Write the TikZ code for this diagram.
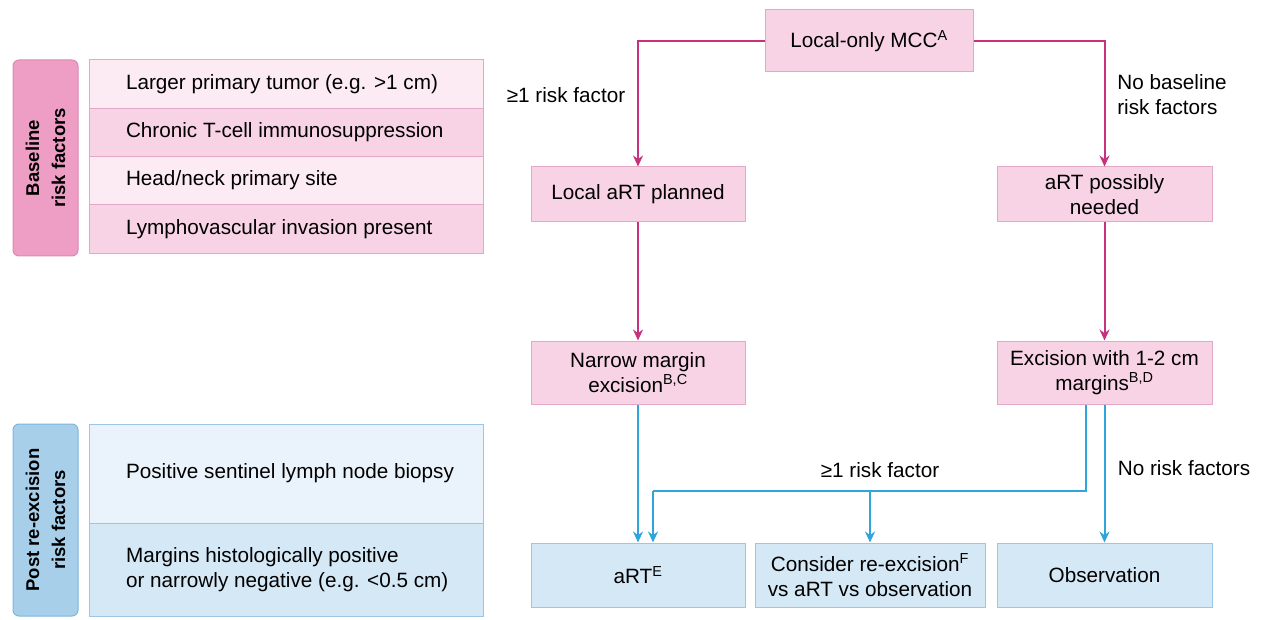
\documentclass[tikz,border=0pt]{standalone}
\usepackage{fontspec}
\setmainfont{Liberation Sans}
\usetikzlibrary{arrows.meta,positioning,calc}
\definecolor{mccpink}{HTML}{C8327C}
\definecolor{mccblue}{HTML}{2FA5DB}
\definecolor{pinkbox}{HTML}{F7D3E5}
\definecolor{pinkedge}{HTML}{E2A8C7}
\definecolor{pinktag}{HTML}{EE9DC5}
\definecolor{pinkdark}{HTML}{D98AB3}
\definecolor{pinklight}{HTML}{FCEBF3}
\definecolor{bluebox}{HTML}{D5E8F6}
\definecolor{blueedge}{HTML}{9DC6E4}
\definecolor{bluetag}{HTML}{A8CFEA}
\definecolor{bluedark}{HTML}{7FB4DC}
\definecolor{bluelight}{HTML}{EAF3FB}

\begin{document}
\begin{tikzpicture}[x=1pt,y=-1pt,
    every node/.style={font=\fontsize{20.7}{25}\selectfont},
    >={Stealth[length=11pt,width=10pt]},
    pbox/.style={rectangle,draw=pinkedge,fill=pinkbox,line width=1pt,align=center,minimum width=214pt},
    bbox/.style={rectangle,draw=blueedge,fill=bluebox,line width=1pt,align=center,minimum height=64pt},
    sidetag/.style={rectangle,rounded corners=6pt,line width=1pt,rotate=90,align=center,minimum height=65pt,font=\fontsize{18.5}{26}\selectfont\bfseries},
    factor/.style={rectangle,line width=1pt,minimum width=394pt},
    factortext/.style={anchor=west,align=left,xshift=34pt},
    pline/.style={mccpink,line width=2pt},
    bline/.style={mccblue,line width=2pt}]
    \useasboundingbox (0,0) rectangle (1263,620);

    % Baseline risk factors
    \node[sidetag,draw=pinkdark,fill=pinktag,minimum width=196pt] (basetag) at (45.5,158) {Baseline\\risk factors};
    \node[factor,draw=pinkedge,fill=pinklight,minimum height=48.25pt] (bf1) at (286,84.1) {};
    \node[factor,draw=pinkedge,fill=pinkbox,minimum height=48.25pt] (bf2) at (286,132.4) {};
    \node[factor,draw=pinkedge,fill=pinklight,minimum height=48.25pt] (bf3) at (286,180.6) {};
    \node[factor,draw=pinkedge,fill=pinkbox,minimum height=48.25pt] (bf4) at (286,228.9) {};
    \node[factortext] (bf1t) at (bf1.west) {Larger primary tumor (e.g. >1 cm)};
    \node[factortext] (bf2t) at (bf2.west) {Chronic T-cell immunosuppression};
    \node[factortext] (bf3t) at (bf3.west) {Head/neck primary site};
    \node[factortext] (bf4t) at (bf4.west) {Lymphovascular invasion present};

    % Post re-excision risk factors
    \node[sidetag,draw=bluedark,fill=bluetag,minimum width=192pt] (posttag) at (45.5,520) {Post re-excision\\risk factors};
    \node[factor,draw=blueedge,fill=bluelight,minimum height=99pt] (pf1) at (286,473.5) {};
    \node[factor,draw=blueedge,fill=bluebox,minimum height=93pt] (pf2) at (286,569.5) {};
    \node[factortext] (pf1t) at (pf1.west) {Positive sentinel lymph node biopsy};
    \node[factortext] (pf2t) at (pf2.west) {Margins histologically positive\\or narrowly negative (e.g. <0.5 cm)};

    % Flow boxes
    \node[pbox,minimum width=208pt,minimum height=62pt] (mcc) at (869,41) {Local-only MCC\textsuperscript{A}};
    \node[pbox,minimum height=55pt] (artplan) at (638,194.5) {Local aRT planned};
    \node[pbox,minimum width=215pt,minimum height=55pt] (artposs) at (1104.5,194.5) {aRT possibly\\needed};
    \node[pbox,minimum height=63pt] (narrow) at (638,372.5) {Narrow margin\\excision\textsuperscript{B,C}};
    \node[pbox,minimum width=215pt,minimum height=63pt] (excis) at (1104.5,372.5) {Excision with 1-2 cm\\margins\textsuperscript{B,D}};
    \node[bbox,minimum width=214pt] (art) at (638,575) {aRT\textsuperscript{E}};
    \node[bbox,minimum width=230pt] (consider) at (870,575) {Consider re-excision\textsuperscript{F}\\vs aRT vs observation};
    \node[bbox,minimum width=215pt] (obs) at (1104.5,575) {Observation};

    % Baseline branches
    \draw[pline,->] (mcc.west) -| (artplan.north);
    \draw[pline,->] (mcc.east) -| (artposs.north);
    \draw[pline,->] (artplan) -- (narrow);
    \draw[pline,->] (artposs) -- (excis);
    \node (lblrisk) at (566,95) {≥1 risk factor};
    \node[align=left] (lblnobase) at (1172,95) {No baseline\\risk factors};

    % Post re-excision branches
    \coordinate (rj) at (1086,491);
    \coordinate (lj) at (653,491);
    \draw[bline,->] (narrow) -- (art);
    \draw[bline] (excis.south -| rj) -- (rj) -- (lj);
    \draw[bline,->] (lj) -- (art.north -| lj);
    \draw[bline,->] (consider.north |- lj) -- (consider.north);
    \draw[bline,->] (excis.south -| obs.north) -- (obs.north);
    \node (lblrisk2) at (880,470) {≥1 risk factor};
    \node (lblnorisk) at (1184,468) {No risk factors};
\end{tikzpicture}
\end{document}
